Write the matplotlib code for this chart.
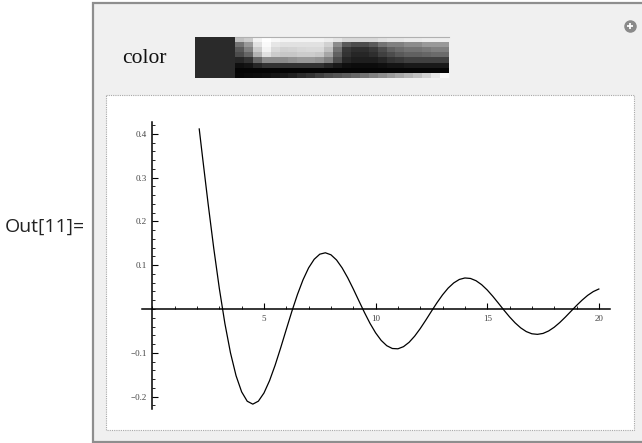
import numpy as np
import matplotlib.pyplot as plt
from matplotlib.patches import Rectangle
from matplotlib.ticker import FixedLocator, MultipleLocator

# curve
x = [2.1, 2.25, 2.5, 2.75, 3.0, 3.25, 3.5, 3.75, 4.0, 4.25, 4.5, 4.75, 5.0,
     5.25, 5.5, 5.75, 6.0, 6.25, 6.5, 6.75, 7.0, 7.25, 7.5, 7.75, 8.0,
     8.25, 8.5, 8.75, 9.0, 9.25, 9.5, 9.75, 10.0, 10.25, 10.5, 10.75, 11.0,
     11.25, 11.5, 11.75, 12.0, 12.25, 12.5, 12.75, 13.0, 13.25, 13.5, 13.75,
     14.0, 14.25, 14.5, 14.75, 15.0, 15.25, 15.5, 15.75, 16.0, 16.25, 16.5,
     16.75, 17.0, 17.25, 17.5, 17.75, 18.0, 18.25, 18.5, 18.75, 19.0, 19.25,
     19.5, 19.75, 20.0]
y = [0.411, 0.3458, 0.2394, 0.1388, 0.047, -0.0333, -0.1002, -0.1524, -0.1892,
     -0.2106, -0.2172, -0.2104, -0.1918, -0.1636, -0.1283, -0.0884, -0.0466,
     -0.0053, 0.0331, 0.0667, 0.0939, 0.1135, 0.1251, 0.1283, 0.1237, 0.1119,
     0.0939, 0.0714, 0.0458, 0.0188, -0.0079, -0.0328, -0.0544, -0.0717,
     -0.0838, -0.0902, -0.0909, -0.086, -0.0761, -0.062, -0.0447, -0.0254,
     -0.0053, 0.0143, 0.0323, 0.0477, 0.0595, 0.0674, 0.0708, 0.0697, 0.0645,
     0.0555, 0.0434, 0.029, 0.0133, -0.0027, -0.018, -0.0317, -0.0431,
     -0.0516, -0.0566, -0.0579, -0.0558, -0.0502, -0.0417, -0.0309, -0.0185,
     -0.0053, 0.0079, 0.0202, 0.0311, 0.0397, 0.0456]

xticks = [5, 10, 15, 20]
yticks = [-0.2, -0.1, 0.1, 0.2, 0.3, 0.4]
ylabels = ['\u22120.2', '\u22120.1', '0.1', '0.2', '0.3', '0.4']

# grey levels of the little "color" picture (rows top to bottom)
strip = [
    [0.75, 0.8, 0.95, 1, 0.97, 0.95, 0.95, 0.95, 0.95, 0.95, 0.93, 0.9, 0.85, 0.85, 0.85, 0.85, 0.88, 0.9, 0.9, 0.92, 0.92, 0.93, 0.93, 0.93],
    [0.45, 0.6, 0.88, 0.98, 0.9, 0.88, 0.88, 0.88, 0.88, 0.88, 0.82, 0.55, 0.35, 0.3, 0.3, 0.35, 0.45, 0.5, 0.5, 0.55, 0.55, 0.6, 0.6, 0.6],
    [0.35, 0.5, 0.8, 0.95, 0.85, 0.82, 0.83, 0.84, 0.85, 0.85, 0.75, 0.45, 0.22, 0.18, 0.18, 0.22, 0.3, 0.38, 0.42, 0.45, 0.45, 0.48, 0.5, 0.5],
    [0.3, 0.4, 0.7, 0.88, 0.8, 0.78, 0.78, 0.8, 0.8, 0.78, 0.65, 0.38, 0.2, 0.15, 0.15, 0.18, 0.25, 0.3, 0.35, 0.38, 0.38, 0.4, 0.42, 0.42],
    [0.15, 0.2, 0.4, 0.55, 0.55, 0.55, 0.58, 0.6, 0.6, 0.58, 0.5, 0.3, 0.15, 0.12, 0.12, 0.12, 0.15, 0.2, 0.22, 0.25, 0.25, 0.25, 0.25, 0.25],
    [0.06, 0.08, 0.15, 0.2, 0.2, 0.2, 0.2, 0.2, 0.2, 0.2, 0.15, 0.1, 0.06, 0.05, 0.05, 0.05, 0.06, 0.08, 0.08, 0.1, 0.1, 0.1, 0.1, 0.1],
    [0.02] * 24,
    [0.03, 0.04, 0.05, 0.06, 0.08, 0.1, 0.13, 0.17, 0.2, 0.25, 0.3, 0.33, 0.36, 0.4, 0.45, 0.5, 0.55, 0.6, 0.65, 0.7, 0.75, 0.82, 0.9, 0.97],
]

W, H = 642, 443
fig = plt.figure(figsize=(W / 100, H / 100), dpi=100)
fig.patch.set_facecolor('white')

# background panel in pixel coords
bg = fig.add_axes([0, 0, 1, 1])
bg.axis('off')
bg.add_patch(Rectangle((93, 3), 560, 439, facecolor='#f0f0f0', edgecolor='#8e8e8e', lw=1.6, zorder=1))
bg.add_patch(Rectangle((106, 95), 528, 335, facecolor='white', edgecolor='#a8a8a8', lw=0.8, ls=(0, (1, 1)), zorder=1))
bg.text(5, 232, 'Out[11]=', fontsize=14, family='Open Sans', color='#222222', va='baseline')
bg.text(122, 63, 'color', fontsize=15.5, family='Liberation Serif', color='#111111', va='baseline')
bg.add_patch(Rectangle((195, 37), 40, 41, facecolor='#2a2a2a', edgecolor='none', zorder=3))
bg.imshow(np.array(strip), cmap='gray', vmin=0, vmax=1, extent=(235, 449, 78, 37),
          aspect='auto', interpolation='nearest', zorder=3)
bg.plot([235, 449], [36.5, 36.5], color='#b0b0b0', lw=0.8, zorder=4)
bg.plot([630], [26], marker='o', ms=8, color='#8a8a8a', mec='#8a8a8a', zorder=4)
bg.plot([630], [26], marker='+', ms=5, mew=1.3, color='white', zorder=5)
bg.set_xlim(0, W)
bg.set_ylim(H, 0)

# the plot
ax = fig.add_axes([142.3 / W, 1 - 409.3 / H, 467.7 / W, 287.8 / H])
ax.set_facecolor('none')
ax.plot(x, y, color='black', lw=0.9)
ax.set_xlim(-0.45, 20.5)
ax.set_ylim(-0.229, 0.428)

for s in ['top', 'right']:
    ax.spines[s].set_visible(False)
ax.spines['left'].set_position('zero')
ax.spines['bottom'].set_position('zero')
ax.spines['left'].set_linewidth(1.1)
ax.spines['bottom'].set_linewidth(1.1)

ax.xaxis.set_major_locator(FixedLocator(xticks))
ax.xaxis.set_minor_locator(MultipleLocator(1))
ax.yaxis.set_major_locator(FixedLocator(yticks))
ax.yaxis.set_minor_locator(MultipleLocator(0.02))
ax.set_yticklabels(ylabels)
ax.tick_params(which='major', direction='in', length=4, width=0.8,
               labelsize=6.5, labelcolor='#444444', pad=4)
ax.tick_params(which='minor', direction='in', length=2.2, width=0.6)
for lab in ax.get_xticklabels() + ax.get_yticklabels():
    lab.set_family('Liberation Serif')

plt.savefig('out.png', dpi=100)
